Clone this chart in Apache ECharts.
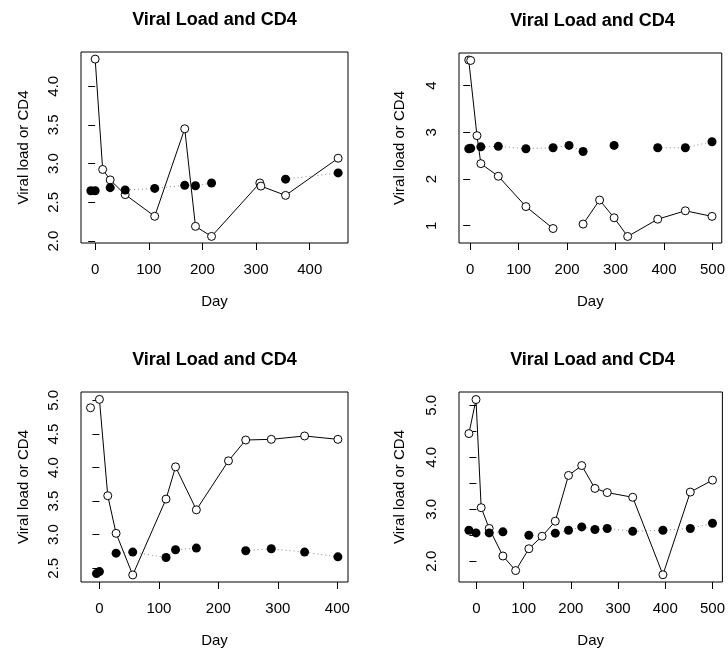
<!DOCTYPE html>
<html>
<head>
<meta charset="utf-8">
<script src="https://cdn.jsdelivr.net/npm/echarts@6/dist/echarts.min.js"></script>
<style>
html,body{margin:0;padding:0;background:#fff;}
#chart{width:728px;height:649px;}
</style>
</head>
<body>
<div id="chart"></div>
<script>
// ---- data (missing values as '-') ----
var titleText = 'Viral Load and CD4';
var xName = 'Day';
var yName = 'Viral load or CD4';

var day1   = [-8, 0, 14, 28, 56, 111, 167, 187, 217, 307, 309, 355, 453];
var viral1 = ['-', 4.35, 2.925, 2.79, 2.60, 2.32, 3.45, 2.19, 2.06, 2.75, 2.71, 2.59, 3.07];
var cd4_1  = [2.65, 2.65, '-', 2.69, 2.66, 2.68, 2.72, 2.715, 2.75, '-', '-', 2.80, 2.88];

var day2   = [-3, 1, 14, 22, 58, 115, 171, 204, 233, 267, 297, 325, 387, 444, 499];
var viral2 = [4.55, 4.54, 2.93, 2.33, 2.06, 1.41, 0.94, '-', 1.035, 1.55, 1.17, 0.77, 1.14, 1.32, 1.20];
var cd4_2  = [2.65, 2.66, '-', 2.69, 2.70, 2.65, 2.67, 2.72, 2.59, '-', 2.72, '-', 2.67, 2.67, 2.80];

var day3   = [-15, -5, 0, 14, 28, 56, 112, 128, 163, 217, 246, 289, 345, 401];
var viral3 = [4.89, '-', 5.015, 3.58, 3.02, 2.40, 3.53, 4.01, 3.37, 4.10, 4.41, 4.42, 4.47, 4.42];
var cd4_3  = ['-', 2.42, 2.45, '-', 2.725, 2.74, 2.66, 2.775, 2.80, '-', 2.76, 2.79, 2.74, 2.67];

var day4   = [-16, -1, 10, 27, 56, 83, 111, 139, 167, 195, 223, 251, 277, 331, 395, 453, 500];
var viral4 = [4.455, 5.11, 3.03, 2.63, 2.10, 1.82, 2.24, 2.48, 2.77, 3.65, 3.84, 3.40, 3.32, 3.23, 1.74, 3.33, 3.56];
var cd4_4  = [2.595, 2.545, '-', 2.545, 2.565, '-', 2.50, '-', 2.54, 2.595, 2.66, 2.61, 2.63, 2.575, 2.595, 2.63, 2.73];

// tick values
var xTicks1 = [0, 100, 200, 300, 400];
var xTicks2 = [0, 100, 200, 300, 400, 500];
var xTicks3 = [0, 100, 200, 300, 400];
var xTicks4 = [0, 100, 200, 300, 400, 500];
var yTicks1 = [2.0, 2.5, 3.0, 3.5, 4.0];
var yLabels1 = [2.0, 2.5, 3.0, 3.5, 4.0];
var yTicks2 = [1, 2, 3, 4];
var yLabels2 = [1, 2, 3, 4];
var yTicks3 = [2.5, 3.0, 3.5, 4.0, 4.5, 5.0];
var yLabels3 = [2.5, 3.0, 3.5, 4.0, 4.5, 5.0];
var yTicks4 = [2.0, 2.5, 3.0, 3.5, 4.0, 4.5, 5.0];
var yLabels4 = [2.0, 3.0, 4.0, 5.0];

// ---- layout ----
var FONT = '"Liberation Sans", Arial, Helvetica, sans-serif';
var panels = [
  {days: day1, viral: viral1, cd4: cd4_1, xt: xTicks1, yt: yTicks1, yl: yLabels1, dec: 1,
   grid: {left: 81, top: 52, width: 267, height: 191}, xr: [-26.4, 471.4], yr: [1.975, 4.442], yGap: 50},
  {days: day2, viral: viral2, cd4: cd4_2, xt: xTicks2, yt: yTicks2, yl: yLabels2, dec: 0,
   grid: {left: 459, top: 53, width: 267, height: 190}, xr: [-23.1, 519.1], yr: [0.63, 4.70], yGap: 52},
  {days: day3, viral: viral3, cd4: cd4_3, xt: xTicks3, yt: yTicks3, yl: yLabels3, dec: 1,
   grid: {left: 81, top: 392, width: 267, height: 193}, xr: [-31.0, 418.0], yr: [2.295, 5.125], yGap: 50},
  {days: day4, viral: viral4, cd4: cd4_4, xt: xTicks4, yt: yTicks4, yl: yLabels4, dec: 1,
   grid: {left: 459, top: 392, width: 267, height: 193}, xr: [-37.0, 521.0], yr: [1.60, 5.255], yGap: 52}
];

function pairs(xs, ys) {
  return xs.map(function (x, i) { return [x, ys[i]]; });
}

var grids = [], xAxes = [], yAxes = [], series = [], titles = [];
panels.forEach(function (p, i) {
  grids.push({
    left: p.grid.left, top: p.grid.top, width: p.grid.width, height: p.grid.height,
    show: true, borderColor: '#000', borderWidth: 1, backgroundColor: 'transparent'
  });
  titles.push({
    text: titleText, left: p.grid.left + p.grid.width / 2, top: p.grid.top - 41,
    textAlign: 'center', padding: 0,
    textStyle: {fontFamily: FONT, fontSize: 18, fontWeight: 'bold', color: '#000'}
  });
  xAxes.push({
    type: 'value', gridIndex: i, min: p.xr[0], max: p.xr[1],
    name: xName, nameLocation: 'middle', nameGap: 51,
    nameTextStyle: {fontFamily: FONT, fontSize: 15, color: '#000'},
    axisLine: {show: false},
    axisTick: {show: true, inside: false, length: 7, customValues: p.xt, lineStyle: {color: '#000'}},
    axisLabel: {customValues: p.xt, margin: 19, fontFamily: FONT, fontSize: 15, color: '#000',
                formatter: function (v) { return String(Math.round(v)); }},
    splitLine: {show: false}
  });
  yAxes.push({
    type: 'value', gridIndex: i, min: p.yr[0], max: p.yr[1],
    name: yName, nameLocation: 'middle', nameGap: p.yGap, nameRotate: 90,
    nameTextStyle: {fontFamily: FONT, fontSize: 15, color: '#000'},
    axisLine: {show: false},
    axisTick: {show: true, inside: false, length: 7, customValues: p.yt, lineStyle: {color: '#000'}},
    axisLabel: {customValues: p.yl, margin: 20, rotate: 90, fontFamily: FONT, fontSize: 15, color: '#000',
                formatter: (function (d) { return function (v) { return v.toFixed(d); }; })(p.dec)},
    splitLine: {show: false}
  });
  series.push({
    type: 'line', xAxisIndex: i, yAxisIndex: i, data: pairs(p.days, p.viral),
    symbol: 'circle', symbolSize: 8, showAllSymbol: true, connectNulls: false,
    itemStyle: {color: '#fff', borderColor: '#000', borderWidth: 1},
    lineStyle: {color: '#000', width: 1}, z: 2, animation: false, silent: true
  });
  series.push({
    type: 'line', xAxisIndex: i, yAxisIndex: i, data: pairs(p.days, p.cd4),
    symbol: 'circle', symbolSize: 9, showAllSymbol: true, connectNulls: false,
    itemStyle: {color: '#000', borderWidth: 0},
    lineStyle: {color: '#888', width: 1, type: [1, 3]}, z: 3, animation: false, silent: true
  });
});

var chart = echarts.init(document.getElementById('chart'), null, {renderer: 'canvas'});
chart.setOption({
  backgroundColor: '#fff',
  animation: false,
  title: titles,
  grid: grids,
  xAxis: xAxes,
  yAxis: yAxes,
  series: series
});
</script>
</body>
</html>
